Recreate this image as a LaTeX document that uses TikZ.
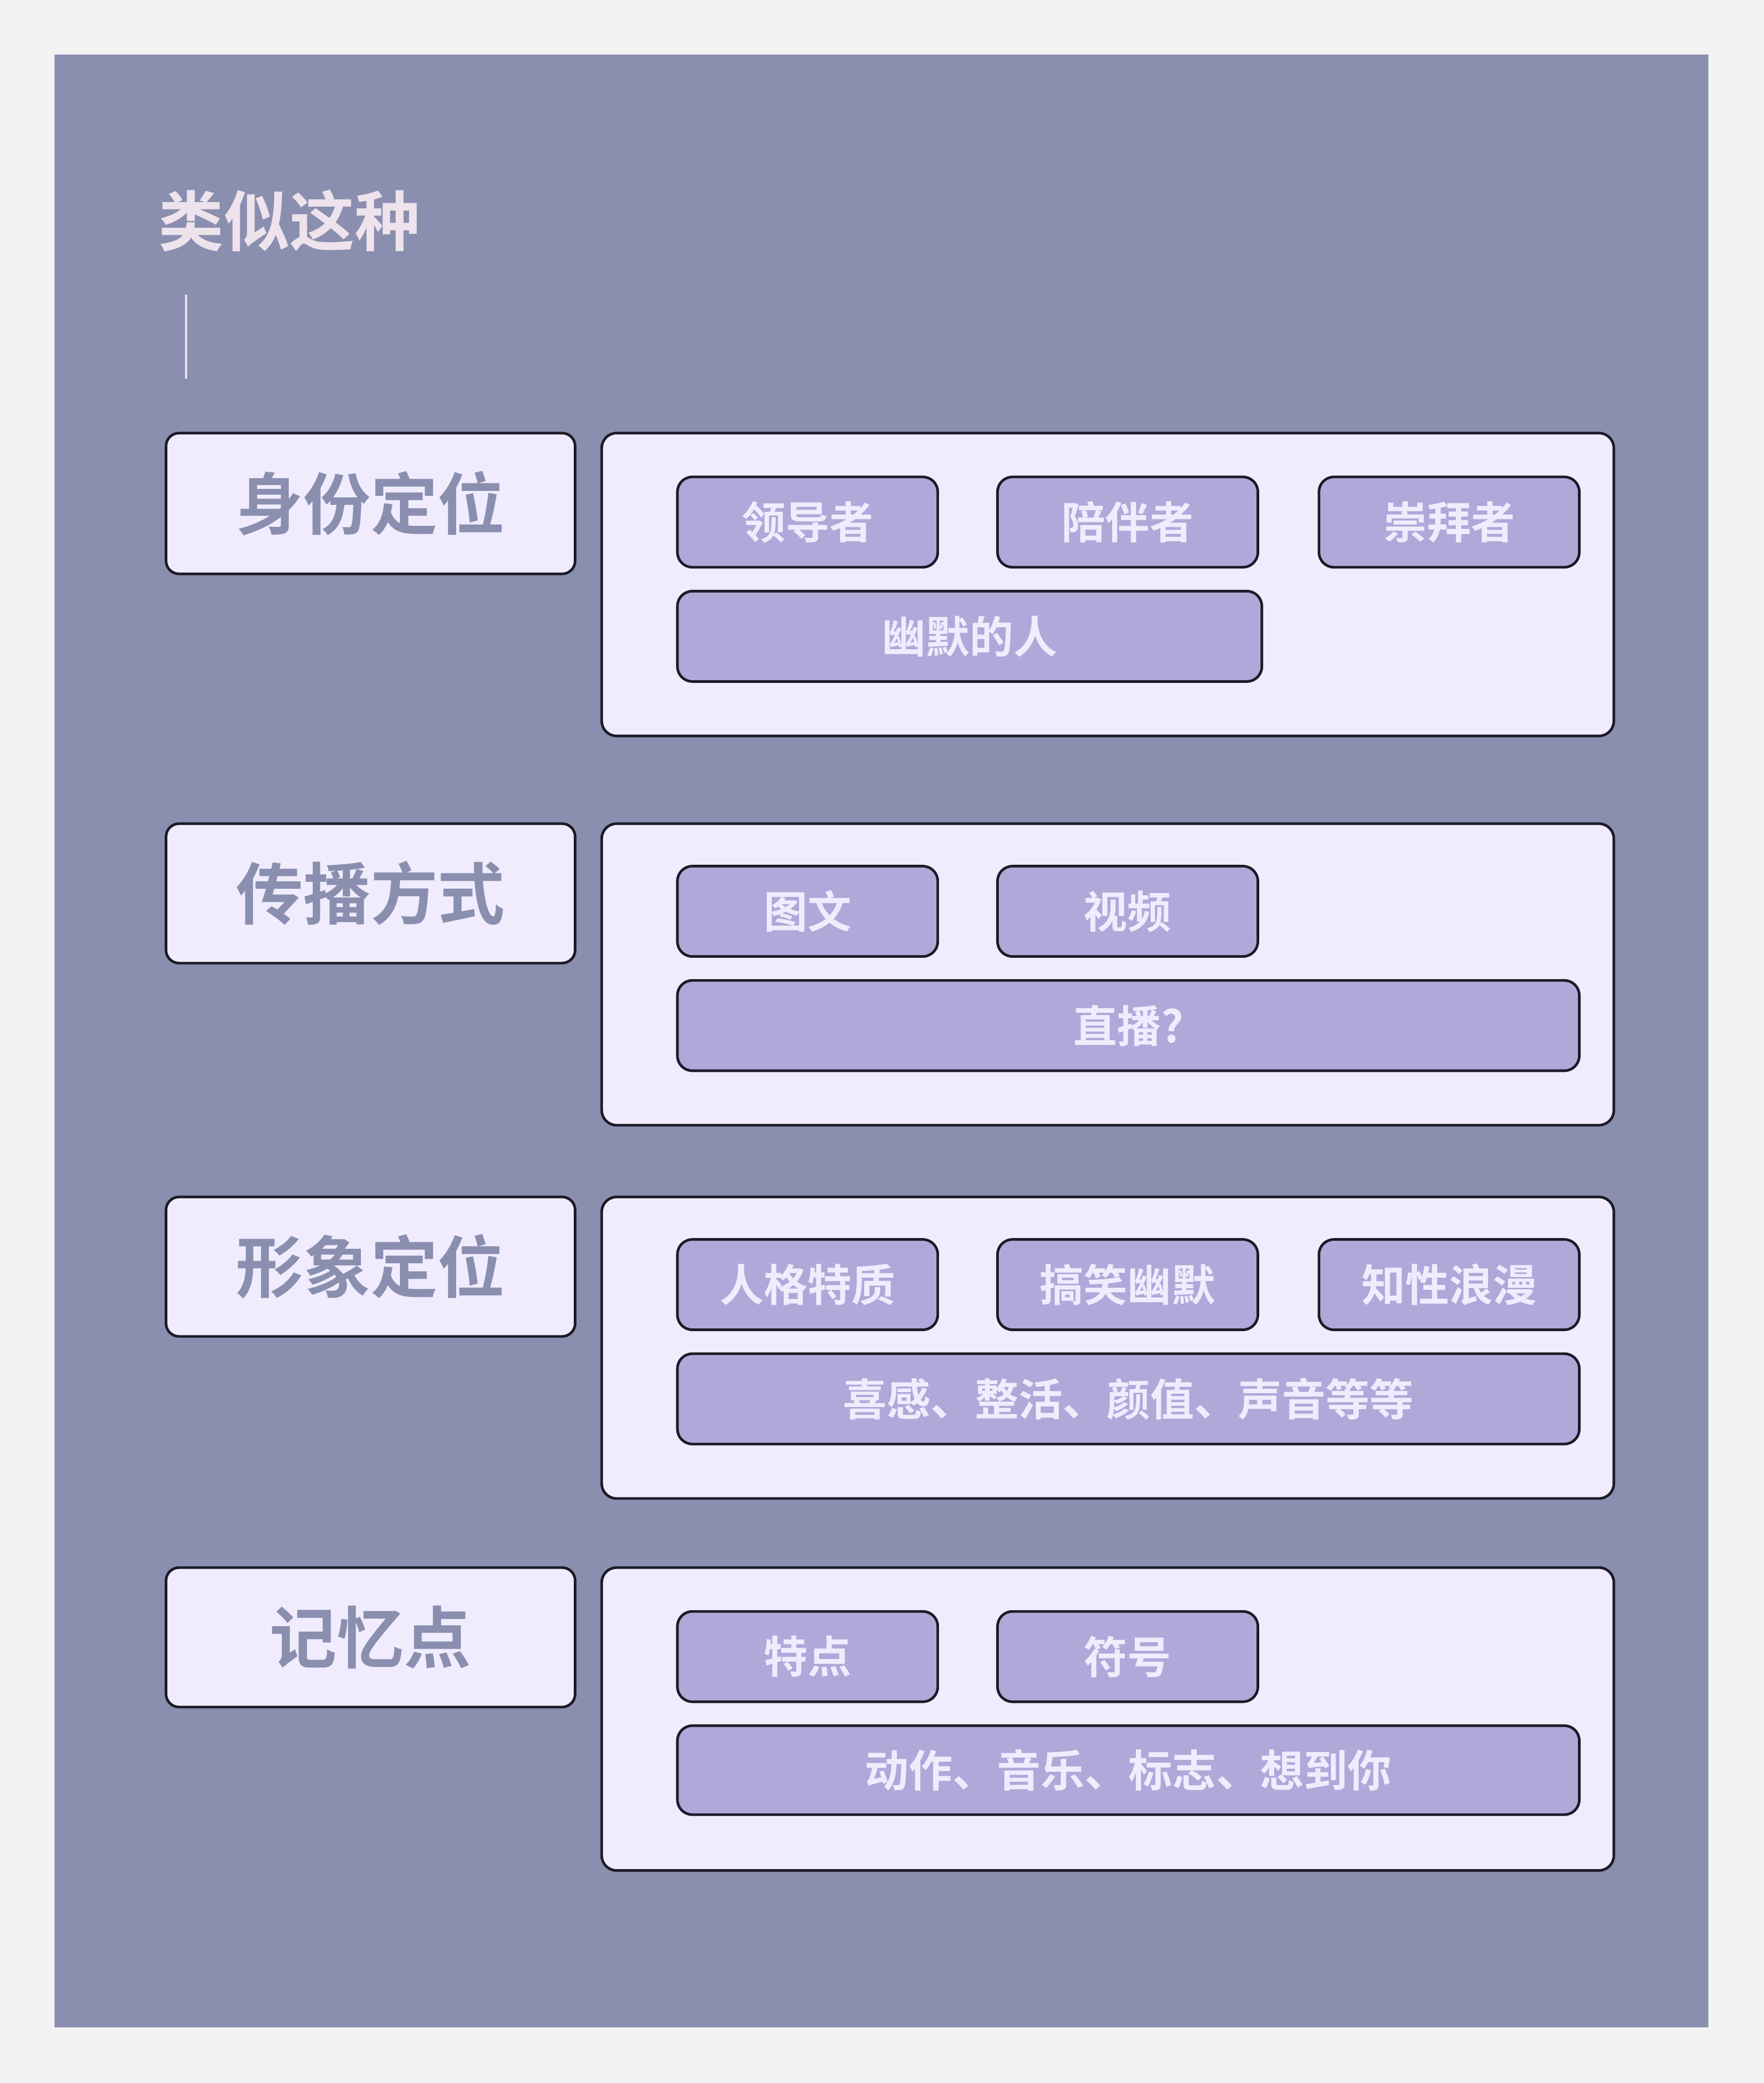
\documentclass[tikz,border=0pt]{standalone}
\usepackage{fontspec}
\newfontfamily\cjk{Noto Sans CJK SC Bold}
\definecolor{bgout}{HTML}{F2F2F2}
\definecolor{panel}{HTML}{8A8FAF}
\definecolor{lbox}{HTML}{F0ECFE}
\definecolor{chip}{HTML}{AFA8D8}
\definecolor{edge}{HTML}{1C1A26}
\definecolor{ttl}{HTML}{EEE3EC}
\begin{document}
\begin{tikzpicture}[x=0.05cm,y=-0.05cm,
  lab/.style={draw=edge,line width=2.8pt,fill=lbox,rounded corners=14pt},
  cont/.style={draw=edge,line width=2.8pt,fill=lbox,rounded corners=16pt},
  chipbox/.style={draw=edge,line width=2.8pt,fill=chip,rounded corners=16pt},
  labtxt/.style={font=\cjk\fontsize{72}{80}\selectfont,text=panel},
  chiptxt/.style={font=\cjk\fontsize{47}{52}\selectfont,text=lbox}]
\fill[bgout] (0,0) rectangle (1328,1568);
\useasboundingbox (0,0) rectangle (1328,1568);
\fill[panel] (41,41) rectangle (1286,1526);
\node[anchor=west,font=\cjk\fontsize{70}{78}\selectfont,text=ttl] (title) at (117,166) {类似这种};
\coordinate (v1) at (140,222); \coordinate (v2) at (140,285);
\draw[ttl,line width=2.5pt] (v1) -- (v2);
% helper macros
\newcommand{\lbl}[4]{\draw[lab] (125,#2) rectangle (433,#3); \node[labtxt] (#1) at (279,{(#2+#3)/2}) {#4};}
\newcommand{\chp}[6]{\draw[chipbox] (#2,#4) rectangle (#3,#5); \node[chiptxt] (#1) at ({(#2+#3)/2},{(#4+#5)/2}) {#6};}
% Row 1
\lbl{l1}{326}{432}{身份定位}
\draw[cont] (453,326) rectangle (1215,554);
\chp{a1}{510}{706}{359}{427}{领导者}
\chp{a2}{751}{947}{359}{427}{陪伴者}
\chp{a3}{993}{1189}{359}{427}{崇拜者}
\chp{a4}{510}{950}{445}{513}{幽默的人}
% Row 2
\lbl{l2}{620}{725}{传播方式}
\draw[cont] (453,620) rectangle (1215,847);
\chp{b1}{510}{706}{652}{720}{图文}
\chp{b2}{751}{947}{652}{720}{视频}
\chp{b3}{510}{1189}{738}{806}{直播?}
% Row 3
\lbl{l3}{901}{1006}{形象定位}
\draw[cont] (453,901) rectangle (1215,1128);
\chp{c1}{510}{706}{933}{1001}{人格特质}
\chp{c2}{751}{947}{933}{1001}{搞笑幽默}
\chp{c3}{993}{1189}{933}{1001}{知性浪漫}
\chp{c4}{510}{1189}{1019}{1087}{喜感、整活、颜值、声音等等}
% Row 4
\lbl{l4}{1180}{1285}{记忆点}
\draw[cont] (453,1180) rectangle (1215,1408);
\chp{d1}{510}{706}{1213}{1281}{特点}
\chp{d2}{751}{947}{1213}{1281}{符号}
\chp{d3}{510}{1189}{1299}{1366}{动作、音乐、标志、想到你}
\end{tikzpicture}
\end{document}
